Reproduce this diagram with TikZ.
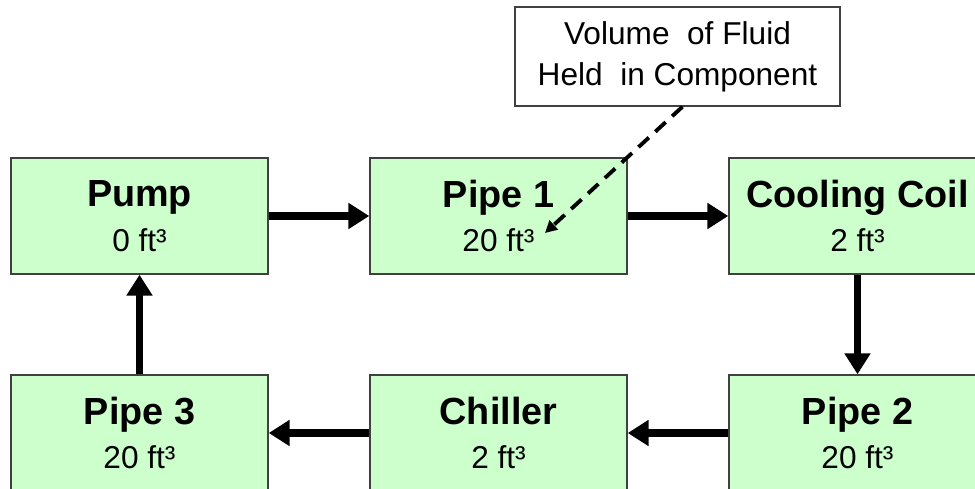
\documentclass[tikz,border=0pt]{standalone}
\usepackage{fontspec}
\setmainfont{Liberation Sans}
\usetikzlibrary{arrows.meta}

\definecolor{boxgreen}{HTML}{CCFFCC}
\newcommand{\comptext}[2]{{\bfseries\fontsize{21.5}{25.5}\selectfont #1}\\#2}

\begin{document}
\begin{tikzpicture}[
    comp/.style={draw=black!75, line width=0.8pt, fill=boxgreen, minimum width=5.14cm,
      minimum height=2.32cm, align=center, inner sep=0pt, font=\fontsize{18}{25.5}\selectfont},
    flow/.style={line width=4.5pt, -{Triangle[length=0.42cm,width=0.5cm]}},
    note/.style={draw=black!75, line width=0.8pt, fill=white, minimum width=6.5cm,
      minimum height=1.98cm, align=center, inner sep=0pt, font=\fontsize{18}{23.5}\selectfont}
  ]
    \useasboundingbox (0,0) rectangle (19.5,9.78);
    \node[comp] (pump) at (2.79,5.46) {\comptext{Pump}{0 ft³}};
    \node[comp] (pipeA) at (9.97,5.46) {\comptext{Pipe 1}{20 ft³}};
    \node[comp] (coil) at (17.15,5.46) {\comptext{Cooling Coil}{2 ft³}};
    \node[comp] (pipeB) at (17.15,1.12) {\comptext{Pipe 2}{20 ft³}};
    \node[comp] (chiller) at (9.97,1.12) {\comptext{Chiller}{2 ft³}};
    \node[comp] (pipeC) at (2.79,1.12) {\comptext{Pipe 3}{20 ft³}};
    \node[note] (callout) at (13.55,8.65) {Volume\ \ of Fluid\\Held\ \ in Component};
    \coordinate (tip) at (10.9,5.12);

    \draw[flow] (pump) -- (pipeA);
    \draw[flow] (pipeA) -- (coil);
    \draw[flow] (coil) -- (pipeB);
    \draw[flow] (pipeB) -- (chiller);
    \draw[flow] (chiller) -- (pipeC);
    \draw[flow] (pipeC) -- (pump);
    \draw[line width=2.2pt, dash pattern=on 8pt off 5pt, -{Triangle[length=0.24cm,width=0.24cm]}]
      ([xshift=0.1cm]callout.south) -- (tip);
\end{tikzpicture}
\end{document}
